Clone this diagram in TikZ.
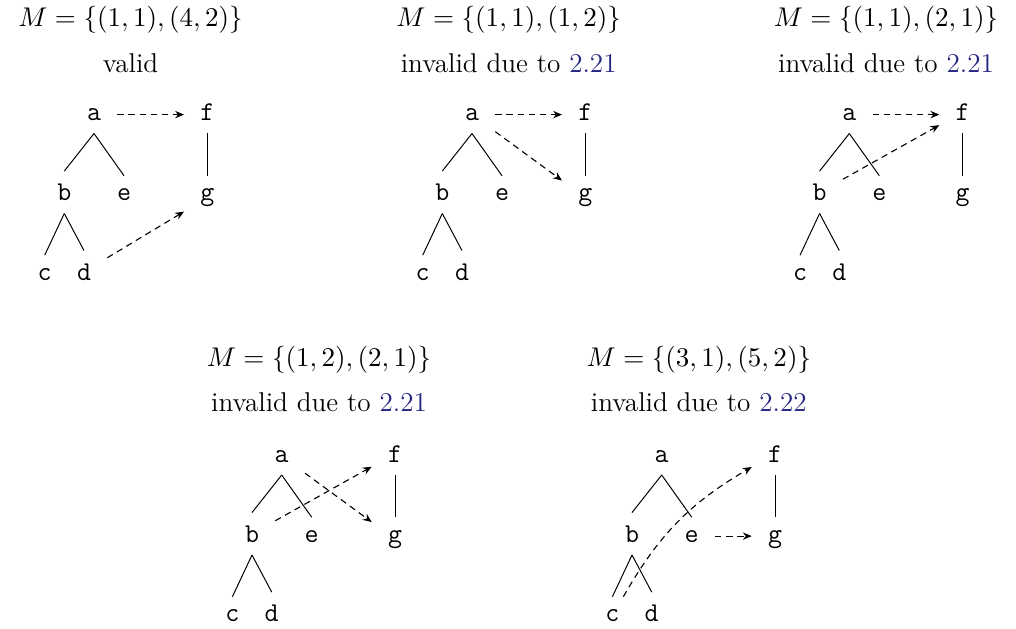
\documentclass[tikz,border=0pt]{standalone}
\usetikzlibrary{arrows.meta}
\definecolor{linkblue}{RGB}{38,38,130}
\tikzset{
  tn/.style={font=\ttfamily\fontsize{11}{13}\selectfont, inner xsep=6.4pt, inner ysep=5pt, anchor=base},
  ttl/.style={anchor=base, inner sep=0pt, font=\fontsize{11}{13}\selectfont},
  tedge/.style={line width=0.4pt},
  marr/.style={-{Stealth[length=3.6pt,width=3pt,inset=1.2pt]}, dash pattern=on 2.6pt off 1.9pt, line width=0.45pt}
}
\newcommand\treepanel[3]{%
\begin{scope}[shift={(#2,#3)}]
\node[tn] (#1a) at (0,0) {a};
\node[tn] (#1f) at (113.3,0) {f};
\node[tn] (#1b) at (-29.7,80) {b};
\node[tn] (#1e) at (30,80) {e};
\node[tn] (#1g) at (113.3,80) {g};
\node[tn] (#1c) at (-49.3,159.5) {c};
\node[tn] (#1d) at (-10,159.5) {d};
\draw[tedge] (#1a.south) -- (#1b.north);
\draw[tedge] (#1a.south) -- (#1e.north);
\draw[tedge] (#1b.south) -- (#1c.north);
\draw[tedge] (#1b.south) -- (#1d.north);
\draw[tedge] (#1f.south) -- (#1g.north);
\end{scope}}
\begin{document}
\begin{tikzpicture}[x=0.405pt, y=-0.405pt]
\useasboundingbox (0,0) rectangle (1016,628);
% panel 1
\node[ttl] (t1) at (130.5,26.7) {$M=\{(1,1),(4,2)\}$};
\node[ttl] (s1) at (130.5,72.7) {valid};
\treepanel{p}{94}{120.5}
\draw[marr] (pa.east) -- (pf.west |- pa.east);
\draw[marr] (pd) -- (pg);
% panel 2
\node[ttl] (t2) at (508.7,26.7) {$M=\{(1,1),(1,2)\}$};
\node[ttl] (s2) at (508.7,72.7) {invalid due to \textcolor{linkblue}{2.21}};
\treepanel{q}{472}{120.5}
\draw[marr] (qa.east) -- (qf.west |- qa.east);
\draw[marr] (qa) -- (qg);
% panel 3
\node[ttl] (t3) at (886,26.7) {$M=\{(1,1),(2,1)\}$};
\node[ttl] (s3) at (886,72.7) {invalid due to \textcolor{linkblue}{2.21}};
\treepanel{r}{849.3}{120.5}
\draw[marr] (ra.east) -- (rf.west |- ra.east);
\draw[marr] (rb) -- (rf);
% panel 4
\node[ttl] (t4) at (319,366.7) {$M=\{(1,2),(2,1)\}$};
\node[ttl] (s4) at (319,411.7) {invalid due to \textcolor{linkblue}{2.21}};
\treepanel{s}{281.7}{462}
\draw[marr] (sa) -- (sg);
\draw[marr] (sb) -- (sf);
% panel 5
\node[ttl] (t5) at (698.8,366.7) {$M=\{(3,1),(5,2)\}$};
\node[ttl] (s5) at (698.8,411.7) {invalid due to \textcolor{linkblue}{2.22}};
\treepanel{u}{661.7}{462}
\draw[marr] (uc) to[bend left=15] (uf);
\draw[marr] (ue.east) -- (ug.west |- ue.east);
\end{tikzpicture}
\end{document}
